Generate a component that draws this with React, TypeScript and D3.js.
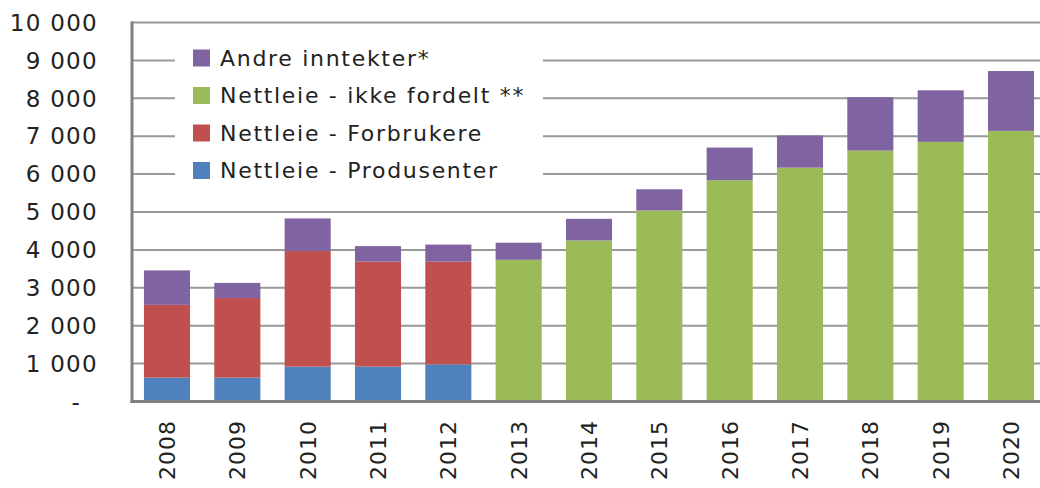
import React, { useEffect, useRef } from 'react';
import * as d3 from 'd3';

const YEARS = ['2008', '2009', '2010', '2011', '2012', '2013', '2014', '2015', '2016', '2017', '2018', '2019', '2020'];
const PRODUSENTER = [630, 630, 920, 920, 980, 0, 0, 0, 0, 0, 0, 0, 0];
const FORBRUKERE = [1920, 2100, 3050, 2770, 2710, 0, 0, 0, 0, 0, 0, 0, 0];
const IKKE_FORDELT = [0, 0, 0, 0, 0, 3740, 4250, 5040, 5840, 6170, 6620, 6850, 7140];
const ANDRE = [910, 400, 860, 410, 450, 450, 570, 560, 860, 850, 1410, 1360, 1580];

const SERIES = [
  { key: 'prod', name: 'Nettleie - Produsenter', color: '#4F81BD', values: PRODUSENTER },
  { key: 'forb', name: 'Nettleie - Forbrukere', color: '#C0504D', values: FORBRUKERE },
  { key: 'ikke', name: 'Nettleie - ikke fordelt **', color: '#9BBB59', values: IKKE_FORDELT },
  { key: 'andre', name: 'Andre inntekter*', color: '#8064A2', values: ANDRE },
];

const Y_TICKS = [0, 1000, 2000, 3000, 4000, 5000, 6000, 7000, 8000, 9000, 10000];

const App = () => {
  const ref = useRef<SVGSVGElement>(null);

  useEffect(() => {
    const width = 1040;
    const height = 488;
    const left = 132;
    const right = 1046;
    const top = 22.5;
    const bottom = 401.5;
    const font = 'DejaVu Sans, Verdana, sans-serif';

    const svg = d3.select(ref.current);
    svg.selectAll('*').remove();
    svg.attr('width', width).attr('height', height);

    // table for stacking
    const rows = YEARS.map((year, i) => {
      const row: any = { year };
      SERIES.forEach(s => { row[s.key] = s.values[i]; });
      return row;
    });
    const stacked = d3.stack().keys(SERIES.map(s => s.key))(rows);

    const x = d3.scaleBand().domain(YEARS).range([left, right]).paddingInner(0.345).paddingOuter(0.17);
    const y = d3.scaleLinear().domain([0, 10000]).range([bottom, top]);

    const fmt = (v: number) => v === 0 ? '-' : d3.format(',')(v).replace(',', ' ');

    // gridlines
    svg.append('g')
      .selectAll('line')
      .data(Y_TICKS.filter(t => t > 0))
      .enter()
      .append('line')
      .attr('x1', left)
      .attr('x2', width)
      .attr('y1', d => y(d))
      .attr('y2', d => y(d))
      .attr('stroke', '#999')
      .attr('stroke-width', 2);

    // y labels
    svg.append('g')
      .selectAll('text')
      .data(Y_TICKS)
      .enter()
      .append('text')
      .attr('x', d => d === 0 ? 81 : 98)
      .attr('y', d => y(d))
      .attr('dy', '0.36em')
      .attr('text-anchor', 'end')
      .attr('font-family', font)
      .attr('font-size', 23)
      .attr('letter-spacing', 1.3)
      .attr('fill', '#222')
      .text(d => fmt(d));

    // bars
    svg.append('g')
      .selectAll('g')
      .data(stacked)
      .enter()
      .append('g')
      .attr('fill', (_, i) => SERIES[i].color)
      .selectAll('rect')
      .data(d => d.filter(p => p[1] - p[0] > 0))
      .enter()
      .append('rect')
      .attr('x', d => x((d.data as any).year) as number)
      .attr('width', x.bandwidth())
      .attr('y', d => y(d[1]))
      .attr('height', d => y(d[0]) - y(d[1]));

    // axes
    svg.append('line')
      .attr('x1', left).attr('x2', left)
      .attr('y1', top - 1).attr('y2', bottom + 1.5)
      .attr('stroke', '#808080').attr('stroke-width', 3);
    svg.append('line')
      .attr('x1', left - 1.5).attr('x2', width)
      .attr('y1', bottom).attr('y2', bottom)
      .attr('stroke', '#808080').attr('stroke-width', 3);

    // x labels
    svg.append('g')
      .selectAll('text')
      .data(YEARS)
      .enter()
      .append('text')
      .attr('transform', d => `translate(${(x(d) as number) + x.bandwidth() / 2}, 420) rotate(-90)`)
      .attr('dy', '0.36em')
      .attr('text-anchor', 'end')
      .attr('font-family', font)
      .attr('font-size', 22)
      .attr('letter-spacing', 1)
      .attr('fill', '#222')
      .text(d => d);

    // legend
    const legend = svg.append('g');
    legend.append('rect')
      .attr('x', 175).attr('y', 36)
      .attr('width', 368).attr('height', 156)
      .attr('fill', '#fff');
    const legendItems = SERIES.slice().reverse();
    const item = legend.selectAll('g.item')
      .data(legendItems)
      .enter()
      .append('g')
      .attr('transform', (_, i) => `translate(193, ${58 + i * 37.5})`);
    item.append('rect')
      .attr('x', 0).attr('y', -8.5)
      .attr('width', 17).attr('height', 17)
      .attr('fill', d => d.color);
    item.append('text')
      .attr('x', 27)
      .attr('dy', '0.36em')
      .attr('font-family', font)
      .attr('font-size', 22)
      .attr('letter-spacing', 1.7)
      .attr('fill', '#222')
      .text(d => d.name);
  }, []);

  return (
    <svg ref={ref} style={{ position: 'absolute', left: 0, top: 0 }}></svg>
  );
};

export default App;
